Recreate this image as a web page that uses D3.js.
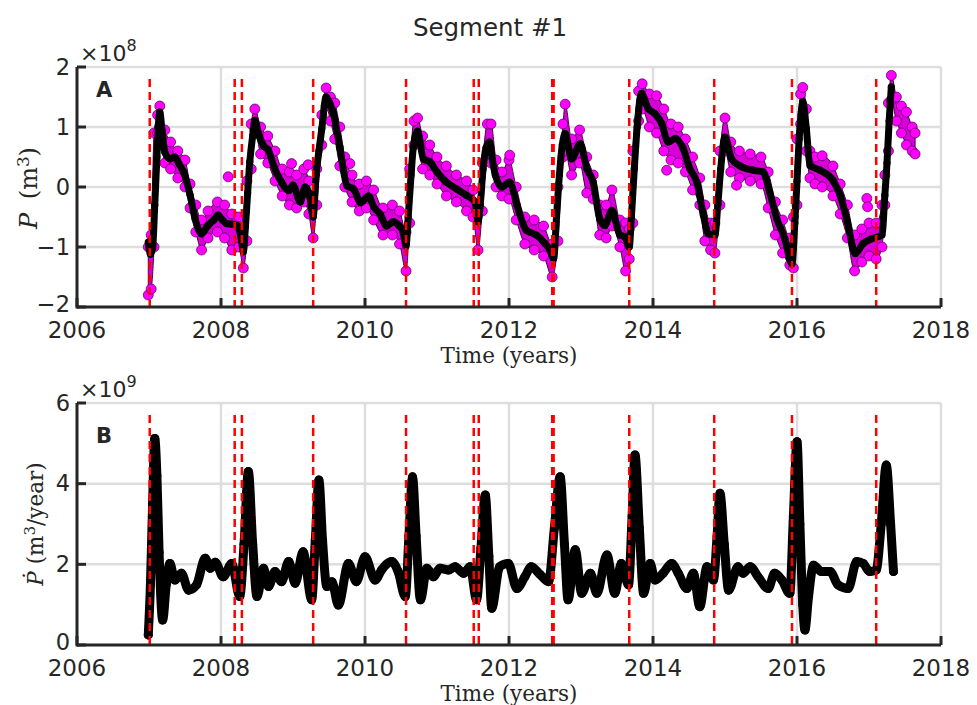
<!DOCTYPE html>
<html>
<head>
<meta charset="utf-8">
<script src="https://cdn.jsdelivr.net/npm/d3@7"></script>
<style>
body { margin: 0; background: #fff; }
text { fill: #262626; }
</style>
</head>
<body>
<script>
// ---- data ----
const xTicks = [2006, 2008, 2010, 2012, 2014, 2016, 2018]
const yTicksA = [-2, -1, 0, 1, 2]
const yTicksB = [0, 2, 4, 6]

// red dashed event lines (years)
const events = [2007.01, 2008.19, 2008.29, 2009.28, 2010.57, 2011.51, 2011.58,
  2012.60, 2012.62, 2013.67, 2014.85, 2015.93, 2017.10]

// panel A, smoothed P (x1e8 m^3)
const pT = [2006.99, 2007.00, 2007.02, 2007.05, 2007.08, 2007.11, 2007.13, 2007.15, 2007.18, 2007.22,
  2007.29, 2007.36, 2007.42, 2007.48, 2007.57, 2007.64, 2007.73, 2007.82, 2007.90, 2007.96,
  2008.02, 2008.08, 2008.15, 2008.22, 2008.28, 2008.31, 2008.34, 2008.37, 2008.40, 2008.44,
  2008.47, 2008.53, 2008.59, 2008.66, 2008.73, 2008.84, 2008.94, 2009.00, 2009.10, 2009.17,
  2009.24, 2009.28, 2009.32, 2009.36, 2009.40, 2009.46, 2009.51, 2009.56, 2009.65, 2009.75,
  2009.84, 2009.94, 2010.05, 2010.12, 2010.21, 2010.30, 2010.39, 2010.47, 2010.53, 2010.57,
  2010.60, 2010.64, 2010.67, 2010.73, 2010.81, 2010.90, 2011.00, 2011.13, 2011.27, 2011.41,
  2011.53, 2011.57, 2011.60, 2011.64, 2011.68, 2011.73, 2011.77, 2011.81, 2011.90, 2012.01,
  2012.11, 2012.24, 2012.38, 2012.50, 2012.57, 2012.62, 2012.66, 2012.70, 2012.74, 2012.78,
  2012.87, 2012.99, 2013.08, 2013.17, 2013.26, 2013.33, 2013.43, 2013.54, 2013.61, 2013.67,
  2013.70, 2013.74, 2013.78, 2013.84, 2013.93, 2014.03, 2014.12, 2014.21, 2014.31, 2014.42,
  2014.51, 2014.61, 2014.70, 2014.77, 2014.86, 2014.90, 2014.94, 2015.00, 2015.09, 2015.21,
  2015.39, 2015.53, 2015.62, 2015.72, 2015.83, 2015.93, 2015.97, 2016.00, 2016.03, 2016.06,
  2016.08, 2016.13, 2016.18, 2016.32, 2016.50, 2016.60, 2016.70, 2016.81, 2016.92, 2017.04,
  2017.18, 2017.22, 2017.25, 2017.28, 2017.31]
const pV = [-0.92, -1.00, -1.12, -1.02, -0.30, 0.50, 1.00, 1.25, 0.95, 0.58,
  0.47, 0.50, 0.38, 0.25, -0.13, -0.53, -0.78, -0.64, -0.55, -0.47,
  -0.55, -0.61, -0.62, -0.64, -0.85, -1.08, -0.65, -0.10, 0.42, 0.85,
  1.11, 0.85, 0.69, 0.61, 0.36, 0.08, -0.06, 0.03, -0.25, 0.00,
  -0.20, -0.50, 0.20, 0.60, 0.97, 1.50, 1.40, 1.23, 0.67, 0.02,
  -0.03, -0.26, -0.15, -0.33, -0.45, -0.65, -0.58, -0.64, -0.75, -0.98,
  -0.50, 0.20, 0.65, 0.93, 0.47, 0.42, 0.25, 0.08, -0.03, -0.14,
  -0.25, -0.58, -0.30, 0.30, 0.65, 0.75, 0.45, 0.20, 0.00, 0.08,
  -0.30, -0.72, -0.80, -0.94, -1.05, -1.19, -0.50, 0.20, 0.70, 0.89,
  0.47, 0.72, 0.31, 0.08, -0.53, -0.64, -0.39, -0.80, -0.83, -1.00,
  -0.50, 0.30, 1.00, 1.56, 1.31, 1.22, 1.06, 0.75, 0.81, 0.64,
  0.31, 0.08, -0.47, -0.78, -0.80, -0.30, 0.30, 0.83, 0.47, 0.35,
  0.28, 0.25, -0.08, -0.53, -0.86, -1.28, -0.60, 0.10, 0.80, 1.25,
  1.42, 0.97, 0.36, 0.28, 0.11, -0.14, -0.58, -1.11, -0.94, -0.86,
  -0.80, -0.14, 0.40, 1.10, 1.67]

// panel A, observed P scatter: spread (low / high) at sampled times
const mT = [2006.99, 2007.03, 2007.07, 2007.12, 2007.15, 2007.22, 2007.30, 2007.40, 2007.50, 2007.57,
  2007.65, 2007.73, 2007.82, 2007.95, 2008.05, 2008.15, 2008.25, 2008.31, 2008.36, 2008.42,
  2008.47, 2008.55, 2008.65, 2008.75, 2008.85, 2008.95, 2009.05, 2009.15, 2009.22, 2009.28,
  2009.33, 2009.40, 2009.46, 2009.52, 2009.58, 2009.65, 2009.72, 2009.82, 2009.92, 2010.02,
  2010.12, 2010.25, 2010.38, 2010.48, 2010.57, 2010.62, 2010.68, 2010.73, 2010.80, 2010.90,
  2011.00, 2011.13, 2011.27, 2011.41, 2011.50, 2011.57, 2011.63, 2011.70, 2011.75, 2011.82,
  2011.90, 2012.00, 2012.10, 2012.22, 2012.35, 2012.48, 2012.60, 2012.68, 2012.75, 2012.78,
  2012.87, 2012.98, 2013.08, 2013.17, 2013.26, 2013.35, 2013.43, 2013.54, 2013.62, 2013.67,
  2013.72, 2013.80, 2013.85, 2013.95, 2014.05, 2014.15, 2014.25, 2014.35, 2014.45, 2014.55,
  2014.65, 2014.72, 2014.80, 2014.86, 2014.93, 2015.00, 2015.08, 2015.20, 2015.35, 2015.50,
  2015.60, 2015.70, 2015.80, 2015.90, 2015.95, 2016.00, 2016.05, 2016.08, 2016.13, 2016.18,
  2016.25, 2016.35, 2016.50, 2016.60, 2016.70, 2016.80, 2016.90, 2017.00, 2017.10, 2017.18,
  2017.22, 2017.27, 2017.31, 2017.38, 2017.45, 2017.52, 2017.60, 2017.64]
const mLo = [-1.80, -1.70, -1.00, 0.90, 1.00, 0.40, 0.30, 0.15, 0.00, -0.35,
  -0.75, -1.05, -0.85, -0.75, -0.85, -1.05, -1.00, -1.35, -0.90, 0.30,
  0.95, 0.55, 0.40, 0.10, -0.15, -0.30, -0.35, -0.25, -0.45, -0.85,
  -0.30, 0.70, 1.35, 1.10, 0.80, 0.35, 0.00, -0.25, -0.40, -0.35,
  -0.55, -0.80, -0.80, -0.95, -1.40, -0.60, 0.70, 0.80, 0.30, 0.20,
  0.05, -0.15, -0.25, -0.40, -0.50, -1.05, -0.40, 0.55, 0.40, 0.00,
  -0.15, -0.20, -0.55, -0.95, -1.05, -1.15, -1.50, -0.90, 0.50, 0.60,
  0.20, 0.40, -0.10, -0.20, -0.80, -0.85, -0.65, -1.00, -1.40, -1.20,
  -0.60, 1.10, 1.30, 1.00, 0.90, 0.60, 0.45, 0.40, 0.25, -0.05,
  -0.30, -0.90, -1.05, -1.10, -0.30, 0.60, 0.25, 0.15, 0.10, 0.05,
  -0.35, -0.80, -1.10, -1.30, -1.35, -0.30, 1.05, 1.20, 0.60, 0.15,
  0.05, 0.00, -0.15, -0.45, -0.85, -1.40, -1.25, -1.15, -1.20, -1.00,
  -0.30, 0.60, 1.45, 1.10, 0.90, 0.70, 0.60, 0.55]
const mHi = [-1.00, -0.80, 0.90, 1.20, 1.35, 0.95, 0.75, 0.60, 0.45, 0.05,
  -0.30, -0.55, -0.40, -0.25, -0.30, -0.45, -0.50, -0.90, 0.10, 1.05,
  1.30, 1.00, 0.85, 0.60, 0.30, 0.25, 0.20, 0.30, 0.10, -0.30,
  0.30, 1.20, 1.65, 1.50, 1.40, 1.00, 0.50, 0.20, 0.05, 0.10,
  -0.05, -0.35, -0.30, -0.40, -0.75, 0.30, 1.10, 1.15, 0.85, 0.70,
  0.50, 0.35, 0.20, 0.10, -0.05, -0.40, 0.40, 1.05, 1.05, 0.45,
  0.25, 0.45, 0.00, -0.50, -0.55, -0.65, -0.95, 0.00, 1.05, 1.38,
  0.80, 0.95, 0.50, 0.20, -0.30, -0.30, -0.05, -0.55, -0.60, -0.70,
  0.60, 1.60, 1.72, 1.55, 1.52, 1.30, 1.05, 1.00, 0.80, 0.50,
  0.15, -0.30, -0.60, -0.60, 0.60, 1.15, 0.75, 0.60, 0.55, 0.50,
  0.25, -0.25, -0.55, -0.85, -0.50, 0.80, 1.55, 1.66, 1.30, 0.60,
  0.50, 0.52, 0.35, 0.05, -0.30, -0.80, -0.70, -0.60, -0.60, -0.30,
  0.20, 1.40, 1.86, 1.50, 1.35, 1.25, 1.00, 0.90]
// isolated scatter points
const oT = [2008.10, 2008.98, 2009.21, 2009.79, 2012.01, 2014.19, 2015.16, 2016.97, 2016.98]
const oV = [0.17, 0.39, 0.37, 0.39, 0.53, 0.28, 0.03, -0.19, -0.33]

// panel B, dP/dt (x1e9 m^3/year)
const dT = [2006.99, 2007.02, 2007.05, 2007.08, 2007.11, 2007.14, 2007.19, 2007.24, 2007.29, 2007.36,
  2007.45, 2007.55, 2007.66, 2007.78, 2007.85, 2007.92, 2008.03, 2008.15, 2008.26, 2008.32,
  2008.38, 2008.44, 2008.50, 2008.59, 2008.66, 2008.75, 2008.84, 2008.94, 2009.03, 2009.14,
  2009.26, 2009.31, 2009.36, 2009.41, 2009.47, 2009.54, 2009.63, 2009.77, 2009.88, 2010.00,
  2010.14, 2010.23, 2010.37, 2010.46, 2010.56, 2010.61, 2010.66, 2010.71, 2010.77, 2010.86,
  2010.95, 2011.04, 2011.16, 2011.25, 2011.37, 2011.46, 2011.55, 2011.61, 2011.67, 2011.72,
  2011.76, 2011.87, 2011.99, 2012.11, 2012.22, 2012.31, 2012.43, 2012.55, 2012.63, 2012.71,
  2012.77, 2012.82, 2012.92, 2013.01, 2013.13, 2013.22, 2013.36, 2013.47, 2013.56, 2013.66,
  2013.71, 2013.75, 2013.81, 2013.87, 2013.96, 2014.03, 2014.14, 2014.26, 2014.35, 2014.47,
  2014.56, 2014.65, 2014.75, 2014.84, 2014.89, 2014.93, 2014.99, 2015.05, 2015.18, 2015.25,
  2015.35, 2015.46, 2015.60, 2015.69, 2015.79, 2015.90, 2015.95, 2016.00, 2016.04, 2016.08,
  2016.11, 2016.16, 2016.23, 2016.34, 2016.46, 2016.57, 2016.71, 2016.83, 2016.92, 2017.01,
  2017.10, 2017.17, 2017.24, 2017.30, 2017.34]
const dV = [0.25, 1.50, 3.50, 5.12, 4.20, 2.30, 0.62, 1.50, 2.02, 1.61,
  1.78, 1.36, 1.49, 2.15, 1.90, 2.05, 1.69, 2.02, 1.20, 2.50,
  4.30, 2.50, 1.20, 1.90, 1.45, 1.82, 1.57, 2.07, 1.53, 2.31,
  1.12, 2.60, 4.09, 2.60, 1.45, 1.57, 0.99, 2.02, 1.57, 2.19,
  1.61, 1.86, 2.07, 1.82, 1.20, 2.70, 4.17, 2.70, 1.12, 1.90,
  1.69, 1.90, 1.86, 1.94, 1.78, 1.94, 1.12, 2.40, 3.72, 2.20,
  0.91, 1.94, 2.02, 1.40, 1.69, 1.94, 1.75, 1.57, 2.90, 4.17,
  2.50, 1.12, 2.36, 1.28, 1.78, 1.28, 2.23, 1.28, 2.02, 1.49,
  3.20, 4.71, 2.90, 1.28, 2.02, 1.61, 1.78, 2.02, 1.78, 1.40,
  1.78, 0.95, 1.94, 1.61, 2.70, 3.76, 2.50, 1.36, 1.94, 1.78,
  1.94, 1.69, 1.40, 1.78, 1.61, 1.28, 3.20, 5.04, 3.00, 1.00,
  0.37, 1.20, 1.98, 1.82, 1.82, 1.49, 1.40, 2.07, 2.02, 1.82,
  1.86, 3.00, 4.46, 3.00, 1.82]

// ---- layout ----
const W = 977, H = 705
const svg = d3.select('body').append('svg').attr('width', W).attr('height', H)
  .style('font-family', '"DejaVu Sans", sans-serif')

const x = d3.scaleLinear().domain([2006, 2018]).range([77, 941])
const yA = d3.scaleLinear().domain([-2, 2]).range([307, 67])
const yB = d3.scaleLinear().domain([0, 6]).range([645, 403])

svg.append('text').attr('x', 490).attr('y', 36).attr('text-anchor', 'middle')
  .attr('font-size', 24.5).text('Segment #1')

function frame(y, ticks) {
  const g = svg.append('g')
  const [y0, y1] = y.range()
  // grid
  g.selectAll('.gx').data(xTicks).enter().append('line')
    .attr('x1', d => x(d)).attr('x2', d => x(d)).attr('y1', y0).attr('y2', y1)
    .attr('stroke', '#dedede').attr('stroke-width', 2.5)
  g.selectAll('.gy').data(ticks).enter().append('line')
    .attr('x1', x(2006)).attr('x2', x(2018)).attr('y1', d => y(d)).attr('y2', d => y(d))
    .attr('stroke', '#dedede').attr('stroke-width', 2.5)
  return g
}

function axes(y, ticks, fmt) {
  const g = svg.append('g')
  const [y0, y1] = y.range()
  g.append('line').attr('x1', x(2006)).attr('x2', x(2018)).attr('y1', y0).attr('y2', y0)
    .attr('stroke', '#262626').attr('stroke-width', 3)
  g.append('line').attr('x1', x(2006)).attr('x2', x(2006)).attr('y1', y0 + 1.5).attr('y2', y1)
    .attr('stroke', '#262626').attr('stroke-width', 3)
  g.selectAll('.tx').data(xTicks).enter().append('line')
    .attr('x1', d => x(d)).attr('x2', d => x(d)).attr('y1', y0).attr('y2', y0 - 9)
    .attr('stroke', '#262626').attr('stroke-width', 3)
  g.selectAll('.ty').data(ticks).enter().append('line')
    .attr('x1', x(2006)).attr('x2', x(2006) + 9).attr('y1', d => y(d)).attr('y2', d => y(d))
    .attr('stroke', '#262626').attr('stroke-width', 3)
  g.selectAll('.lx').data(xTicks).enter().append('text')
    .attr('x', d => x(d)).attr('y', y0 + 31).attr('text-anchor', 'middle')
    .attr('font-size', 23).text(d => d)
  g.selectAll('.ly').data(ticks).enter().append('text')
    .attr('x', x(2006) - 7).attr('y', d => y(d)).attr('dy', d => d === ticks[0] ? '0.2em' : '0.34em')
    .attr('text-anchor', 'end')
    .attr('font-size', 22.5).text(fmt)
  g.append('text').attr('x', 509).attr('y', y0 + 56).attr('text-anchor', 'middle')
    .attr('font-family', '"DejaVu Serif", serif').attr('font-size', 21.5).text('Time (years)')
  return g
}

function eventLines(y) {
  svg.append('g').selectAll('line').data(events).enter().append('line')
    .attr('x1', d => x(d)).attr('x2', d => x(d))
    .attr('y1', y(y.domain()[1] * 0.95 + y.domain()[0] * 0.05)).attr('y2', y.range()[0])
    .attr('stroke', '#ff0000').attr('stroke-width', 2.5).attr('stroke-dasharray', '8,5')
}

const fmt = d => d < 0 ? '\u2212' + (-d) : String(d)

// ---- panel A ----
frame(yA, yTicksA)
const mag = mT.map((t, i) => ({ t, lo: mLo[i], hi: mHi[i] }))
svg.append('path').datum(mag)
  .attr('d', d3.area().curve(d3.curveMonotoneX).x(d => x(d.t)).y0(d => yA(d.lo)).y1(d => yA(d.hi)))
  .attr('fill', '#d800d8').attr('stroke', '#4a004a').attr('stroke-width', 1)
const magPts = mag.flatMap(d => [{ t: d.t, v: d.lo }, { t: d.t, v: d.hi }])
  .concat(oT.map((t, i) => ({ t, v: oV[i] })))
svg.append('g').selectAll('circle').data(magPts).enter().append('circle')
  .attr('cx', d => x(d.t)).attr('cy', d => yA(d.v)).attr('r', 5)
  .attr('fill', '#ff00ff').attr('stroke', '#4a004a').attr('stroke-width', 0.7)

const pData = pT.map((t, i) => ({ t, v: pV[i] }))
svg.append('path').datum(pData)
  .attr('d', d3.line().curve(d3.curveMonotoneX).x(d => x(d.t)).y(d => yA(d.v)))
  .attr('fill', 'none').attr('stroke', '#000').attr('stroke-width', 7).attr('stroke-linejoin', 'round')
svg.append('g').selectAll('circle').data(pData).enter().append('circle')
  .attr('cx', d => x(d.t)).attr('cy', d => yA(d.v)).attr('r', 3.6).attr('fill', '#000')
eventLines(yA)
axes(yA, yTicksA, fmt)

// ---- panel B ----
frame(yB, yTicksB)
const dData = dT.map((t, i) => ({ t, v: dV[i] }))
svg.append('path').datum(dData)
  .attr('d', d3.line().curve(d3.curveMonotoneX).x(d => x(d.t)).y(d => yB(d.v)))
  .attr('fill', 'none').attr('stroke', '#000').attr('stroke-width', 9)
  .attr('stroke-linejoin', 'round').attr('stroke-linecap', 'round')
svg.append('g').selectAll('circle').data(dData).enter().append('circle')
  .attr('cx', d => x(d.t)).attr('cy', d => yB(d.v)).attr('r', 4.5).attr('fill', '#000')
eventLines(yB)
axes(yB, yTicksB, fmt)

// ---- labels ----
function expo(yBase, p) {
  const t = svg.append('text').attr('x', 80).attr('y', yBase).attr('font-size', 22)
  t.append('tspan').text('\u00d710')
  t.append('tspan').attr('dy', -10).attr('font-size', 16).text(p)
}
expo(61, '8')
expo(397, '9')

svg.append('text').attr('x', 96).attr('y', 97).attr('font-size', 21).attr('font-weight', 'bold').text('A')
svg.append('text').attr('x', 96).attr('y', 443).attr('font-size', 21).attr('font-weight', 'bold').text('B')

function ylab(cx, cy, size, gap, sym, unit) {
  const t = svg.append('text').attr('transform', `translate(${cx},${cy}) rotate(-90)`)
    .attr('text-anchor', 'middle').attr('font-family', '"DejaVu Serif", serif').attr('font-size', size)
  t.append('tspan').attr('font-style', 'italic').text(sym)
  t.append('tspan').attr('dx', gap).text(' (m')
  t.append('tspan').attr('dy', -8).attr('font-size', size * 0.7).text('3')
  t.append('tspan').attr('dy', 8).text(unit + ')')
}
ylab(37, 188, 24, 6, 'P', '')
ylab(43, 524, 21.5, 0, '\u1e56', '/year')
</script>
</body>
</html>
